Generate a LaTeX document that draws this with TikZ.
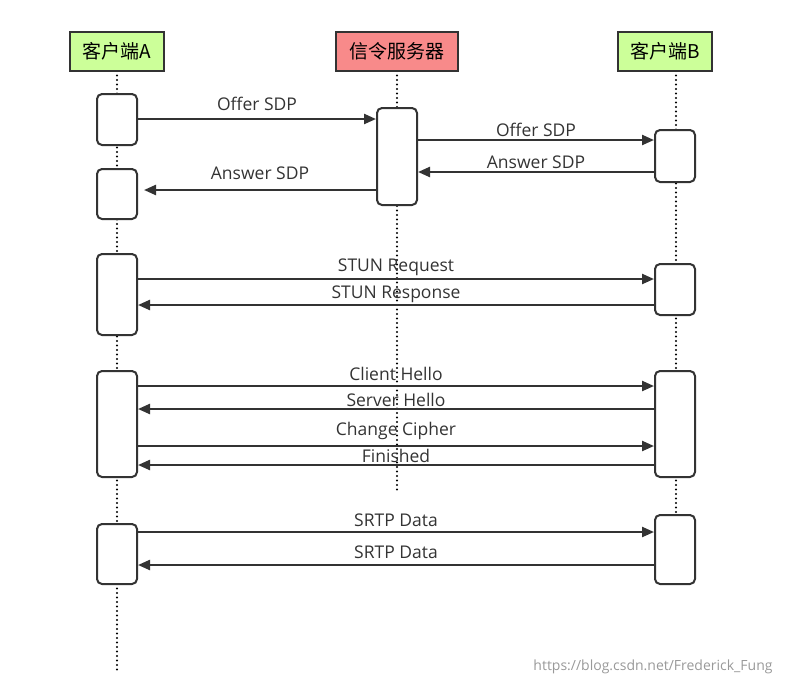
\documentclass[tikz,border=0pt]{standalone}
\usepackage{fontspec}
\setmainfont{Open Sans}
\newfontfamily\cjk{Noto Sans CJK SC}
\usetikzlibrary{arrows.meta}
\definecolor{hgreen}{HTML}{CCFF99}
\definecolor{hred}{HTML}{F88A8A}
\definecolor{ln}{HTML}{333333}
\begin{document}
\begin{tikzpicture}[x=1pt,y=-1pt,
  head/.style={draw=ln,line width=2pt,minimum width=#1,minimum height=39pt,inner sep=0pt,font=\cjk\fontsize{19}{21}\selectfont},
  act/.style={draw=ln,line width=2pt,fill=white,rounded corners=5pt,minimum width=40pt,inner sep=0pt},
  life/.style={line cap=round,dash pattern=on 0pt off 4.5pt, line width=2.4pt},
  msg/.style={draw=ln,line width=2.3pt,-{Triangle[length=12pt,width=10pt]}},
  lbl/.style={font=\fontsize{17.5}{20}\selectfont,inner sep=1pt,text=ln}]
\useasboundingbox (0,0) rectangle (790,686);
% lifelines
\coordinate (la0) at (117,71); \coordinate (la1) at (117,670);
\coordinate (ls0) at (397,71); \coordinate (ls1) at (397,490);
\coordinate (lb0) at (676,71); \coordinate (lb1) at (676,584);
\draw[life] (la0) -- (la1);
\draw[life] (ls0) -- (ls1);
\draw[life] (lb0) -- (lb1);
% headers
\node[head=94pt,fill=hgreen] (hA) at (117,51.5) {客户端A};
\node[head=122pt,fill=hred] (hS) at (397,51.5) {信令服务器};
\node[head=94pt,fill=hgreen] (hB) at (665,51.5) {客户端B};
% activations
\node[act,minimum height=51pt] (a1) at (117,119.5) {};
\node[act,minimum height=50pt] (a2) at (117,194) {};
\node[act,minimum height=81pt] (a3) at (117,294.5) {};
\node[act,minimum height=106pt] (a4) at (117,424) {};
\node[act,minimum height=60pt] (a5) at (117,554) {};
\node[act,minimum height=97pt] (s1) at (397,156.5) {};
\node[act,minimum height=52pt] (b1) at (675,156) {};
\node[act,minimum height=51pt] (b2) at (675,289.5) {};
\node[act,minimum height=106pt] (b4) at (675,424) {};
\node[act,minimum height=69pt] (b5) at (675,549.5) {};
% messages
\draw[msg] (a1.east |- 0,119) -- node[lbl,above=6pt] {Offer SDP} (s1.west |- 0,119);
\draw[msg] (s1.east |- 0,140) -- node[lbl,above=1pt] {Offer SDP} (b1.west |- 0,140);
\draw[msg] (b1.west |- 0,172) -- node[lbl,above=1pt] {Answer SDP} (s1.east |- 0,172);
\draw[msg] (s1.west |- 0,190) -- node[lbl,above=8pt] {Answer SDP} ([xshift=6pt]a2.east |- 0,190);
\draw[msg] (a3.east |- 0,279) -- node[lbl,above=1pt] {STUN Request} (b2.west |- 0,279);
\draw[msg] (b2.west |- 0,305) -- node[lbl,above=0pt] {STUN Response} (a3.east |- 0,305);
\draw[msg] (a4.east |- 0,386) -- node[lbl,above=3pt] {Client Hello} (b4.west |- 0,386);
\draw[msg] (b4.west |- 0,409) -- node[lbl,above=0pt] {Server Hello} (a4.east |- 0,409);
\draw[msg] (a4.east |- 0,446) -- node[lbl,above=4pt] {Change Cipher} (b4.west |- 0,446);
\draw[msg] (b4.west |- 0,465) -- node[lbl,above=0pt] {Finished} (a4.east |- 0,465);
\draw[msg] (a5.east |- 0,532) -- node[lbl,above=3pt] {SRTP Data} (b5.west |- 0,532);
\draw[msg] (b5.west |- 0,565) -- node[lbl,above=4pt] {SRTP Data} (a5.east |- 0,565);
\node[font=\fontsize{14}{16}\selectfont,text=black!40] (wm) at (653,667) {https://blog.csdn.net/Frederick\_Fung};
\end{tikzpicture}
\end{document}
